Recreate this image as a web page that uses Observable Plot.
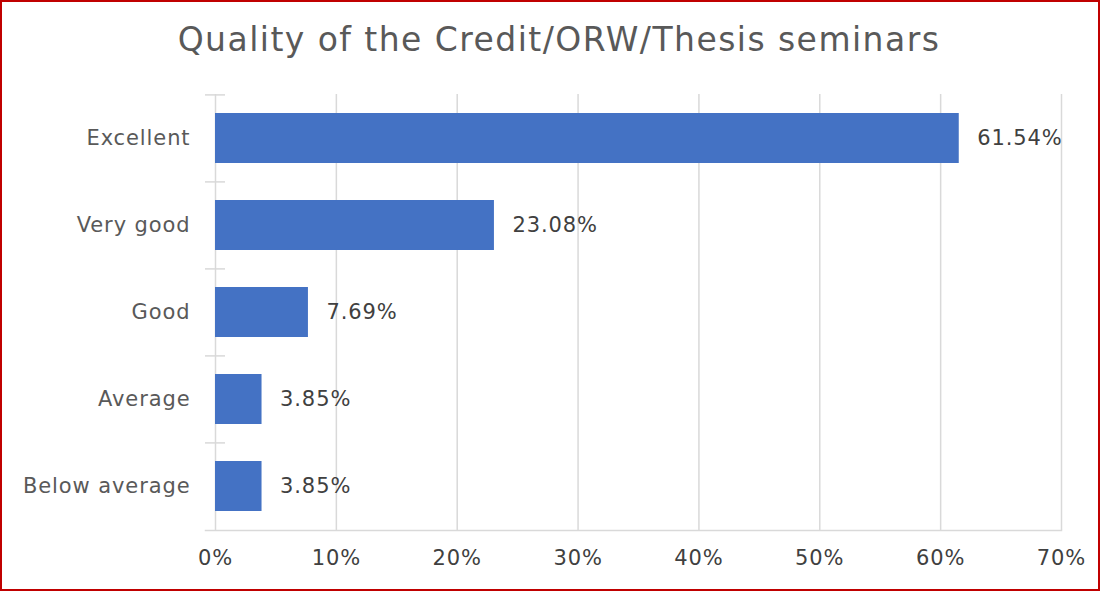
<!DOCTYPE html>
<html>
<head>
<meta charset="utf-8">
<script src="https://cdn.jsdelivr.net/npm/d3@7"></script>
<script src="https://cdn.jsdelivr.net/npm/@observablehq/plot@0.6"></script>
<style>
  html, body { margin: 0; padding: 0; background: #fff; }
  #wrap { position: relative; width: 1100px; height: 591px; overflow: hidden; background: #fff; }
  #title { position: absolute; left: 9px; top: 19px; width: 1100px; text-align: center; line-height: 42px;
           font-family: "DejaVu Sans", sans-serif; font-size: 33px; letter-spacing: 1.45px; color: #595959; }
  #chart { position: absolute; left: 0; top: 0; }
  #chart svg text { letter-spacing: 0.9px; }
  #border { position: absolute; left: 0; top: 0; width: 1100px; height: 591px; box-sizing: border-box;
            border: 2px solid #c00000; pointer-events: none; }
</style>
</head>
<body>
<div id="wrap">
  <div id="title">Quality of the Credit/ORW/Thesis seminars</div>
  <div id="chart"></div>
  <div id="border"></div>
</div>
<script>
const categories = ["Excellent", "Very good", "Good", "Average", "Below average"];
const values = [61.54, 23.08, 7.69, 3.85, 3.85];
const xTicks = [0, 10, 20, 30, 40, 50, 60, 70];

const data = categories.map((c, i) => ({category: c, value: values[i]}));

const W = 1100, H = 591;
const mTop = 94, mBottom = 61, mLeft = 215, mRight = 39;
const step = (H - mTop - mBottom) / categories.length;
const font = "DejaVu Sans, sans-serif";

const plot = Plot.plot({
  width: W,
  height: H,
  marginTop: mTop,
  marginBottom: mBottom,
  marginLeft: mLeft,
  marginRight: mRight,
  style: {fontFamily: font, fontSize: "21px", color: "#595959", background: "transparent"},
  x: {domain: [0, 70], label: null},
  y: {domain: categories, paddingInner: 0.42, paddingOuter: 0.21, label: null},
  marks: [
    Plot.ruleX(xTicks.filter(d => d > 0), {stroke: "#d9d9d9", strokeWidth: 1.5, strokeOpacity: 1}),
    Plot.frame({anchor: "bottom", stroke: "#d9d9d9", strokeWidth: 1.5, strokeOpacity: 1, insetLeft: -10}),
    Plot.ruleX([0], {stroke: "#d9d9d9", strokeWidth: 1.5, strokeOpacity: 1}),
    Plot.axisY({tickSize: 20, dx: 10, dy: -step / 2, text: null, label: null, stroke: "#d9d9d9", strokeWidth: 1.5, strokeOpacity: 1}),
    Plot.axisY({tickSize: 0, tickPadding: 25, label: null, fill: "#595959", fontSize: 21}),
    Plot.axisX({ticks: xTicks, tickSize: 0, tickPadding: 20, tickFormat: d => d + "%", label: null, fill: "#404040", fontSize: 21}),
    Plot.barX(data, {x: "value", y: "category", fill: "#4472c4"}),
    Plot.text(data, {x: "value", y: "category", text: d => d.value.toFixed(2) + "%", textAnchor: "start", dx: 18, fill: "#404040", fontSize: 21})
  ]
});
document.getElementById("chart").appendChild(plot);
</script>
</body>
</html>
